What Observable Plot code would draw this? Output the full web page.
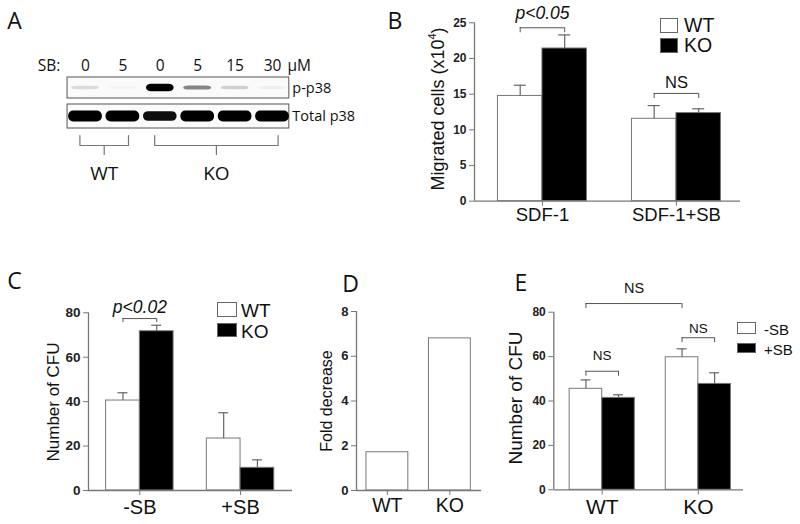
<!DOCTYPE html>
<html><head><meta charset="utf-8">
<script src="https://cdn.jsdelivr.net/npm/d3@7"></script>
<script src="https://cdn.jsdelivr.net/npm/@observablehq/plot@0.6"></script>
<style>
body{margin:0;background:#fff;}
#fig{position:relative;width:800px;height:524px;overflow:hidden;background:#fff;font-family:"Liberation Sans",Arial,sans-serif;color:#111;}
.abs{position:absolute;white-space:nowrap;line-height:1;}
.box{position:absolute;box-sizing:border-box;border:1px solid #666;}
</style></head><body><div id="fig"></div>
<script>
// ---------- Panel A (western blot) ----------
const laneDoses = ["0", "5", "0", "5", "15", "30"];
const laneGenotype = ["WT", "WT", "KO", "KO", "KO", "KO"];
const blotNames = ["p-p38", "Total p38"];
const pp38Intensity = [0.12, 0.02, 0.95, 0.45, 0.16, 0.04];
const totalIntensity = [1, 1, 0.9, 1, 1, 1];

// ---------- Panel B ----------
const bGroups = ["SDF-1", "SDF-1+SB"];
const bWT = [14.75, 11.55], bWTse = [1.5, 1.85];
const bKO = [21.4, 12.35], bKOse = [1.9, 0.6];
const bTicks = [0, 5, 10, 15, 20, 25];

// ---------- Panel C ----------
const cGroups = ["-SB", "+SB"];
const cWT = [40.5, 23.4], cWTse = [3.5, 11.6];
const cKO = [71.7, 10.2], cKOse = [2.7, 3.6];
const cTicks = [0, 20, 40, 60, 80];

// ---------- Panel D ----------
const dGroups = ["WT", "KO"];
const dFold = [1.71, 6.8];
const dTicks = [0, 2, 4, 6, 8];

// ---------- Panel E ----------
const eGroups = ["WT", "KO"];
const eMinus = [45.5, 59.7], eMinusSe = [4.0, 3.8];
const ePlus = [41.4, 47.7], ePlusSe = [1.4, 5.0];
const eTicks = [0, 20, 40, 60, 80];

const fig = document.getElementById("fig");
const SANS = "'Liberation Sans', Arial, sans-serif";
function place(el, left, top) {
  const d = document.createElement("div");
  d.style.position = "absolute"; d.style.left = left + "px"; d.style.top = top + "px";
  d.appendChild(el); fig.appendChild(d);
}
function txt(html, x, y, o = {}) {
  const d = document.createElement("div"); d.className = "abs"; d.innerHTML = html;
  d.style.left = x + "px"; d.style.top = y + "px"; d.style.fontSize = (o.size || 16) + "px";
  d.style.fontFamily = o.family || SANS;
  if (o.weight) d.style.fontWeight = o.weight;
  const ax = o.anchor === "start" ? "0" : o.anchor === "end" ? "-100%" : "-50%";
  d.style.transform = `translate(${ax},-50%)` + (o.rotate ? ` rotate(${o.rotate}deg)` : "");
  fig.appendChild(d);
}
function box(x, y, w, h, fill) {
  const d = document.createElement("div"); d.className = "box";
  Object.assign(d.style, {left: x + "px", top: y + "px", width: w + "px", height: h + "px", background: fill});
  fig.appendChild(d);
}
const plotStyle = {background: "transparent", overflow: "visible", fontFamily: SANS, color: "#111"};
const GRAY = "#777";

function barPanel(c) {
  const mL = c.axisL - c.left, mR = c.left + c.width - c.axisR;
  const mT = c.yTop - c.top, mB = c.top + c.height - c.y0;
  const pxX = (c.axisR - c.axisL) / (c.xDomain[1] - c.xDomain[0]);
  const pxY = (c.y0 - c.yTop) / c.yMax;
  const n = c.series.length;
  const center = (g, s) => n === 1 ? g : g - c.barW / 2 + s * c.barW;
  const rows = [];
  c.groups.forEach((name, g) => c.series.forEach((S, s) => rows.push({
    g, s, c: center(g, s), v: S.values[g], se: S.se ? S.se[g] : 0, fill: S.fill
  })));
  const errs = rows.filter(d => d.se > 0);
  const cap = (c.capPx || 5) / pxX;
  const br = (c.brackets || []).map(b => ({...b, xa: center(...b.a), xb: center(...b.b)}));
  const drop = (c.dropPx || 5) / pxY;
  const brEnds = br.flatMap(b => [{x: b.xa, y: b.y}, {x: b.xb, y: b.y}]);
  const brText = (sel, style) => Plot.text(br.filter(sel), {x: d => (d.xa + d.xb) / 2, y: "textY", text: "label",
    fontSize: d => d.size, fontStyle: style, fill: "#111"});
  const marks = [
    Plot.rect(rows, {x1: d => d.c - c.barW / 2, x2: d => d.c + c.barW / 2, y1: d => 0, y2: "v",
      fill: "fill", stroke: GRAY, strokeWidth: 1}),
    Plot.ruleX(errs, {x: "c", y1: "v", y2: d => d.v + d.se, stroke: "#666", strokeWidth: 1.2}),
    Plot.ruleY(errs, {y: d => d.v + d.se, x1: d => d.c - cap, x2: d => d.c + cap, stroke: "#666", strokeWidth: 1.2}),
    Plot.ruleY([0], {stroke: GRAY, strokeWidth: 1.3}),
    Plot.ruleX([c.xDomain[0]], {y1: 0, y2: c.yMax, stroke: GRAY, strokeWidth: 1.3}),
    Plot.axisY({ticks: c.yTicks, tickSize: 5, tickPadding: 3, label: null, fontSize: c.tickFont, color: "#222"}),
    Plot.axisX({ticks: c.groups.map((_, i) => i), tickFormat: i => c.groups[i], tickSize: 5,
      tickPadding: c.catPad, label: null, fontSize: c.catFont, color: "#111"}),
    Plot.ruleY(br, {y: "y", x1: "xa", x2: "xb", stroke: "#555", strokeWidth: 1}),
    Plot.ruleX(brEnds, {x: "x", y1: "y", y2: d => d.y - drop, stroke: "#555", strokeWidth: 1}),
    brText(d => d.italic, "italic"),
    brText(d => !d.italic, "normal")
  ];
  const p = Plot.plot({
    width: c.width, height: c.height, marginLeft: mL, marginRight: mR, marginTop: mT, marginBottom: mB,
    x: {type: "linear", domain: c.xDomain}, y: {type: "linear", domain: [0, c.yMax]},
    color: {type: "identity"}, style: plotStyle, marks
  });
  // reference styling: bold y tick labels, gray tick marks
  d3.select(p).selectAll("g[aria-label='y-axis tick label']").attr("font-weight", "bold");
  d3.select(p).selectAll("g[aria-label='y-axis tick'], g[aria-label='x-axis tick']").attr("stroke", GRAY);
  place(p, c.left, c.top);
}

// ---------- Panel A plot ----------
(function () {
  const lanes = d3.range(laneDoses.length);
  const rows = [
    {name: blotNames[0], top: 77, bottom: 98, yc: 87.5, I: pp38Intensity, w: 0.74, h: 8},
    {name: blotNames[1], top: 104, bottom: 128, yc: 116, I: totalIntensity, w: 0.9, h: 11}
  ];
  const bands = rows.flatMap(r => lanes.map(i => ({lane: i, yc: r.yc, I: r.I[i], w: r.w, h: r.h * (0.4 + 0.6 * r.I[i] ** 2)})));
  const groups = ["WT", "KO"].map(g => {
    const ls = lanes.filter(i => laneGenotype[i] === g);
    return {name: g, a: ls[0] - 0.15, b: ls[ls.length - 1] + 0.15};
  });
  const bracePts = groups.flatMap(g => {
    const m = (g.a + g.b) / 2;
    return [[g.a, 135], [g.a, 145], [m, 145], [m, 154], [m, 145], [g.b, 145], [g.b, 135]].map(([x, y]) => ({name: g.name, x, y}));
  });
  const F = "Open Sans, DejaVu Sans, sans-serif";
  const p = Plot.plot({
    width: 330, height: 200, margin: 0,
    x: {type: "linear", domain: [-85 / 37.4, 245 / 37.4], range: [0, 330], axis: null},
    y: {type: "linear", domain: [0, 200], range: [0, 200], axis: null},
    style: plotStyle,
    marks: [
      Plot.rect(rows, {x1: () => -0.48, x2: () => 5.45, y1: "top", y2: "bottom", fill: "#fafafa", stroke: "#555", strokeWidth: 1}),
      Plot.rect(bands, {x1: d => d.lane - d.w / 2, x2: d => d.lane + d.w / 2, y1: d => d.yc - d.h / 2, y2: d => d.yc + d.h / 2,
        fill: "#000", fillOpacity: d => Math.min(1, d.I * 1.05), rx: 5, ariaLabel: "bands"}),
      Plot.text(lanes, {x: i => i, y: () => 66, text: i => laneDoses[i], fontSize: 15.5, fontFamily: F}),
      Plot.text(["SB:"], {x: () => -0.67, y: () => 66, text: d => d, textAnchor: "end", fontSize: 15.5, fontFamily: F}),
      Plot.text(["μM"], {x: () => 5.4, y: () => 66, text: d => d, textAnchor: "start", fontSize: 15.5, fontFamily: F}),
      Plot.text(rows, {x: () => 5.53, y: "yc", text: "name", textAnchor: "start", fontSize: 14.5, fontFamily: F}),
      Plot.line(bracePts, {x: "x", y: "y", z: "name", stroke: "#777", strokeWidth: 1.2}),
      Plot.text(groups, {x: d => (d.a + d.b) / 2, y: () => 173, text: "name", fontSize: 19, fontFamily: F})
    ]
  });
  d3.select(p).selectAll('g[aria-label="bands"]').style("filter", "blur(1.4px)");
  place(p, 0, 0);
})();

// ---------- Panel B ----------
barPanel({left: 380, top: 0, width: 380, height: 230, axisL: 474, axisR: 740, y0: 200.7, yTop: 22.3, yMax: 25,
  xDomain: [-0.507, 1.478], barW: 0.332, capPx: 6, groups: bGroups, yTicks: bTicks, tickFont: 12, catFont: 18.5, catPad: 1.5,
  series: [{values: bWT, se: bWTse, fill: "white"}, {values: bKO, se: bKOse, fill: "black"}],
  brackets: [
    {a: [0, 0], b: [0, 1], y: 24.3, textY: 26.3, label: "p<0.05", size: 17.5, italic: true},
    {a: [1, 0], b: [1, 1], y: 15.1, textY: 16.6, label: "NS", size: 16.5}
  ]});

// ---------- Panel C ----------
barPanel({left: 0, top: 260, width: 300, height: 264, axisL: 88, axisR: 292, y0: 490, yTop: 312.3, yMax: 80,
  xDomain: [-0.51, 1.516], barW: 0.335, capPx: 5, groups: cGroups, yTicks: cTicks, tickFont: 13.5, catFont: 20, catPad: 4,
  series: [{values: cWT, se: cWTse, fill: "white"}, {values: cKO, se: cKOse, fill: "black"}],
  dropPx: 4,
  brackets: [{a: [0, 0], b: [0, 1], y: 77.4, textY: 82.4, label: "p<0.02", size: 17.5, italic: true}]});

// ---------- Panel D ----------
barPanel({left: 300, top: 260, width: 190, height: 264, axisL: 356, axisR: 481, y0: 490, yTop: 311, yMax: 8,
  xDomain: [-0.494, 1.506], barW: 0.67, groups: dGroups, yTicks: dTicks, tickFont: 13, catFont: 19.5, catPad: 3,
  series: [{values: dFold, fill: "white"}]});

// ---------- Panel E ----------
barPanel({left: 490, top: 260, width: 310, height: 264, axisL: 553.3, axisR: 743, y0: 489.3, yTop: 311.7, yMax: 80,
  xDomain: [-0.504, 1.47], barW: 0.339, capPx: 5, groups: eGroups, yTicks: eTicks, tickFont: 12, catFont: 21, catPad: 4,
  series: [{values: eMinus, se: eMinusSe, fill: "white"}, {values: ePlus, se: ePlusSe, fill: "black"}],
  brackets: [
    {a: [0, 0], b: [1, 0], y: 83.9, textY: 90.7, label: "NS", size: 14.5},
    {a: [0, 0], b: [0, 1], y: 53.4, textY: 60.5, label: "NS", size: 13.5},
    {a: [1, 0], b: [1, 1], y: 68.5, textY: 72.7, label: "NS", size: 13.5}
  ]});

// ---------- Panel letters, axis titles, legends ----------
const LF = "Open Sans, DejaVu Sans, sans-serif";
txt("A", 14.5, 20, {size: 23, family: LF});
txt("B", 395, 19.5, {size: 23, family: LF});
txt("C", 14.5, 280, {size: 23, family: LF});
txt("D", 350.5, 283, {size: 23, family: LF});
txt("E", 521, 281.5, {size: 23, family: LF});

txt("Migrated cells (x10<sup style='font-size:0.6em;vertical-align:0.7em;line-height:0'>4</sup>)", 438, 109, {size: 18, rotate: -90});
txt("Number of CFU", 53, 402, {size: 17, rotate: -90});
txt("Fold decrease", 327, 401, {size: 16, rotate: -90});
txt("Number of CFU", 515, 398, {size: 19, rotate: -90});

box(660, 18, 18, 15, "#fff"); box(660, 38, 18, 15, "#000");
txt("WT", 684, 25.5, {size: 19.5, anchor: "start"}); txt("KO", 684, 46, {size: 19.5, anchor: "start"});
box(217, 302, 20, 15, "#fff"); box(217, 323, 20, 14, "#000");
txt("WT", 241, 310, {size: 19, anchor: "start"}); txt("KO", 241, 330.5, {size: 19, anchor: "start"});
box(737, 322, 19, 12, "#fff"); box(737, 343, 19, 10, "#000");
txt("-SB", 764, 329, {size: 15, anchor: "start"}); txt("+SB", 764, 348.5, {size: 15, anchor: "start"});
</script></body></html>
